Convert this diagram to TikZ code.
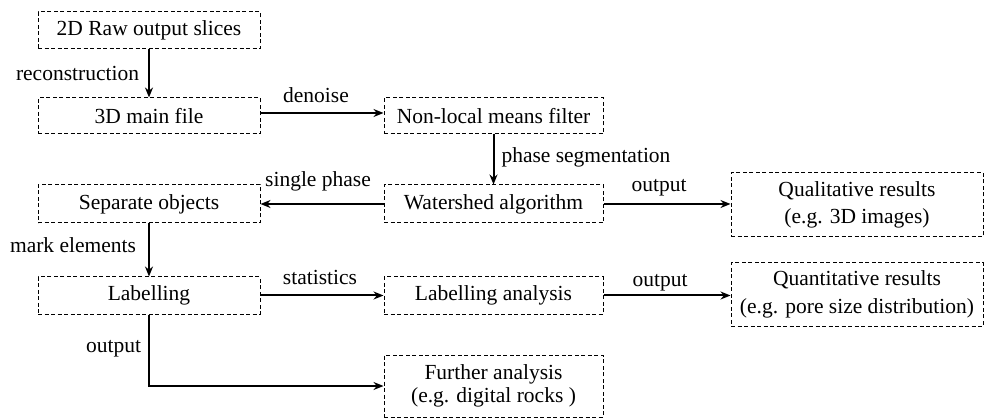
\documentclass[tikz,border=0pt]{standalone}
\usepackage{fontspec}
\setmainfont{Liberation Serif}
\usetikzlibrary{arrows.meta}
\begin{document}
\begin{tikzpicture}[x=1pt,y=-1pt,
  box/.style={draw,dashed,dash pattern=on 4pt off 2.5pt,line width=1pt,inner sep=0pt,align=center,
    font=\fontsize{21.5}{23}\selectfont},
  wide/.style={font=\fontsize{21.5}{27.5}\selectfont},
  lbl/.style={inner sep=1pt,font=\fontsize{21.5}{23.5}\selectfont},
  hl/.style={lbl,anchor=base,pos=0.5},
  arr/.style={line width=2pt,-{Stealth[length=10pt,width=8pt]}}]
\useasboundingbox (0,0) rectangle (984,419);
\node[box,minimum width=222pt,minimum height=37pt] (b1) at (149,30.5) {2D Raw output slices};
\node[box,minimum width=222pt,minimum height=36pt] (b2) at (149,116) {3D main file};
\node[box,minimum width=219pt,minimum height=36pt] (b3) at (493.5,116) {Non-local means filter};
\node[box,minimum width=219pt,minimum height=38pt] (b4) at (493.5,204) {Watershed algorithm};
\node[box,minimum width=222pt,minimum height=38pt] (b5) at (149,204) {Separate objects};
\node[box,wide,minimum width=252pt,minimum height=64pt] (b6) at (857,205) {Qualitative results\\(e.g. 3D images)};
\node[box,minimum width=222pt,minimum height=37pt] (b7) at (149,295.5) {Labelling};
\node[box,minimum width=219pt,minimum height=37pt] (b8) at (493.5,295.5) {Labelling analysis};
\node[box,wide,minimum width=252pt,minimum height=63pt] (b9) at (857,294.5) {Quantitative results\\(e.g. pore size distribution)};
\node[box,minimum width=219pt,minimum height=62pt] (b10) at (493.5,386) {Further analysis\\(e.g. digital rocks )};

\draw[arr] (b1) -- (b2) node[lbl,pos=0.5,left=8pt] {reconstruction};
\draw[arr] ([yshift=3pt]b2.east) -- ([yshift=3pt]b3.west) node[hl,xshift=-6pt,yshift=10pt] {denoise};
\draw[arr] (b3) -- (b4) node[lbl,pos=0.45,right=6pt] {phase segmentation};
\draw[arr] (b4) -- (b5) node[hl,xshift=-4pt,yshift=17pt] {single phase};
\draw[arr] (b4) -- (b4 -| b6.west) node[hl,xshift=-8pt,yshift=12pt] {output};
\draw[arr] (b5) -- (b7) node[lbl,pos=0.4,left=11pt] {mark elements};
\draw[arr] (b7) -- (b8) node[hl,xshift=-2pt,yshift=11pt] {statistics};
\draw[arr] (b8) -- (b8 -| b9.west) node[hl,xshift=-7pt,yshift=9pt] {output};
\draw[arr] (b7.south) |- (b10.west) node[lbl,pos=0.24,left=6pt] {output};
\end{tikzpicture}
\end{document}
